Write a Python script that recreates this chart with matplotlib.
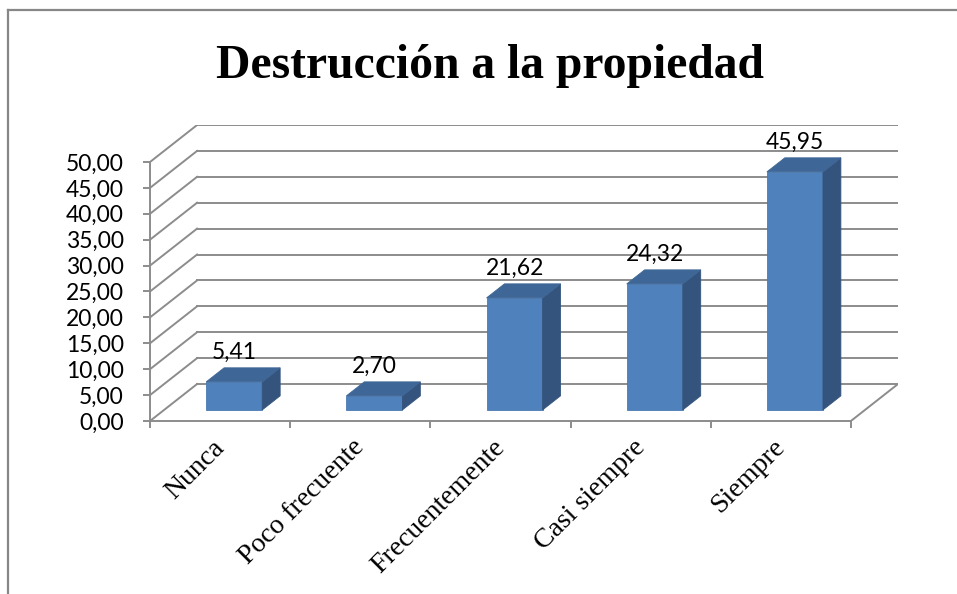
import matplotlib
matplotlib.use("Agg")
import matplotlib.pyplot as plt
from matplotlib.patches import Polygon
from matplotlib.lines import Line2D
from matplotlib.transforms import ScaledTranslation

# Datos
categorias = ["Nunca", "Poco frecuente", "Frecuentemente", "Casi siempre", "Siempre"]
valores = [5.41, 2.70, 21.62, 24.32, 45.95]
ticks_y = [0, 5, 10, 15, 20, 25, 30, 35, 40, 45, 50]
titulo = "Destrucción a la propiedad"

# Estilo
c_frente = "#4F81BD"
c_lado = "#34547D"
c_arriba = "#3E6696"
c_rejilla = "#8C8C8C"
fuente_num = "Lato"
fuente_txt = "Liberation Serif"

# Perspectiva (profundidad en unidades de datos)
dx, dy = 0.336, 7.14
f0, f1 = 0.30, 0.68   # posición de la barra en la profundidad
ancho = 0.4
n = len(categorias)
ymax = ticks_y[-1]

fig = plt.figure(figsize=(9.57, 5.94), dpi=100)
ax = fig.add_axes([150 / 957, 173 / 594, 748 / 957, 296 / 594])
ax.set_xlim(0, n + dx)
ax.set_ylim(0, ymax + dy)

# Rejilla: pared trasera y pared lateral
for v in ticks_y:
    ax.plot([dx, n + dx], [v + dy, v + dy], color=c_rejilla, lw=1.4, zorder=1)
    ax.plot([0, dx], [v, v + dy], color=c_rejilla, lw=1.4, zorder=1)
# Suelo
ax.plot([n, n + dx], [0, dy], color=c_rejilla, lw=1.4, zorder=1)

# Barras 3D
for i, v in enumerate(valores):
    x0 = i + 0.5 - ancho / 2 + f0 * dx
    x1 = x0 + ancho
    y0 = f0 * dy
    ddx = (f1 - f0) * dx
    ddy = (f1 - f0) * dy
    ax.add_patch(Polygon([(x0, y0), (x1, y0), (x1, y0 + v), (x0, y0 + v)],
                         closed=True, fc=c_frente, ec="#4A7AB3", lw=0.6, zorder=3))
    ax.add_patch(Polygon([(x1, y0), (x1 + ddx, y0 + ddy), (x1 + ddx, y0 + ddy + v), (x1, y0 + v)],
                         closed=True, fc=c_lado, ec=c_lado, lw=0.6, zorder=3))
    ax.add_patch(Polygon([(x0, y0 + v), (x1, y0 + v), (x1 + ddx, y0 + v + ddy), (x0 + ddx, y0 + v + ddy)],
                         closed=True, fc=c_arriba, ec=c_arriba, lw=0.6, zorder=3))
    etiqueta = f"{v:.2f}".replace(".", ",")
    ax.text(i + 0.5 + f0 * dx, v + f1 * dy + 1.0, etiqueta, ha="center", va="bottom",
            fontsize=16.5, family=fuente_num, zorder=4)

# Ejes
for s in ["top", "right"]:
    ax.spines[s].set_visible(False)
ax.spines["left"].set_bounds(0, ymax)
ax.spines["bottom"].set_bounds(0, n)
ax.spines["left"].set_color(c_rejilla)
ax.spines["bottom"].set_color(c_rejilla)
ax.spines["left"].set_linewidth(1.4)
ax.spines["bottom"].set_linewidth(1.4)

ax.set_yticks(ticks_y)
ax.set_yticklabels([f"{t:.2f}".replace(".", ",") for t in ticks_y], family=fuente_num, fontsize=16.5)
ax.tick_params(axis="y", length=5, width=1.4, color=c_rejilla, pad=14)

ax.set_xticks(range(n + 1))
ax.set_xticklabels([])
ax.tick_params(axis="x", which="major", length=5, width=1.4, color=c_rejilla)
ax.set_xticks([i + 0.5 for i in range(n)], minor=True)
ax.set_xticklabels(categorias, minor=True, rotation=45, ha="right",
                   rotation_mode="anchor", family=fuente_txt, fontsize=20)
ax.tick_params(axis="x", which="minor", length=0, pad=10)
desplaza = ScaledTranslation(-6 / 72, 0, fig.dpi_scale_trans)
for lbl in ax.get_xticklabels(minor=True):
    lbl.set_transform(lbl.get_transform() + desplaza)

# Título
fig.text(490 / 957, 1 - 78 / 594, titulo, ha="center", va="baseline",
         fontsize=34.3, fontweight="bold", family=fuente_txt)

# Marco del gráfico
fig.add_artist(Line2D([8 / 957, 8 / 957], [0, 1 - 10 / 594], color="#878787", lw=1.6))
fig.add_artist(Line2D([8 / 957, 1], [1 - 10 / 594, 1 - 10 / 594], color="#878787", lw=1.6))

fig.savefig("out.png", dpi=100)
